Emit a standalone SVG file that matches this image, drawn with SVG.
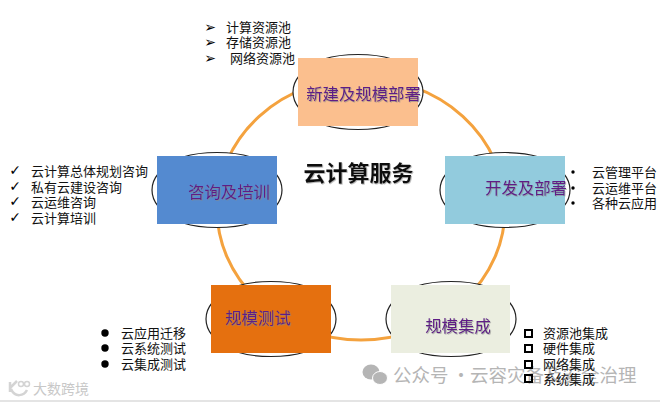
<svg xmlns="http://www.w3.org/2000/svg" width="660" height="402" viewBox="0 0 660 402">
<defs>
<path id="plaque" d="M26,1 C45,-5 75,-5 94,1 L110,8 L119,18 C124,24 125,30 125,34 C125,38 124,44 119,50 L110,60 L94,67 C75,73 45,73 26,67 L10,60 L1,50 C-4,44 -5,38 -5,34 C-5,30 -4,24 1,18 L10,8 Z" fill="#fff" stroke="#222" stroke-width="1.2"/>
<filter id="sh" x="-10%" y="-10%" width="120%" height="130%"><feDropShadow dx="0.8" dy="0.8" stdDeviation="0.4" flood-color="#888" flood-opacity="0.7"/></filter>
</defs>
<style>
.t{font-family:"Noto Sans CJK SC","Liberation Sans",sans-serif;font-size:13px;fill:#111}
.n{font-family:"Noto Sans CJK SC","Liberation Sans",sans-serif;font-size:16.4px;fill:#5f1b86;text-anchor:middle;filter:url(#sh)}
.m{font-size:14px;fill:#000;font-family:"DejaVu Sans",sans-serif;text-anchor:middle}
.w{font-family:"Noto Sans CJK SC","Liberation Sans",sans-serif;fill:#b5b5b5}
</style>
<rect width="660" height="402" fill="#fff"/>
<rect y="400" width="660" height="2" fill="#e4e4e4"/>
<g id="connectors"><ellipse cx="361" cy="209" rx="144" ry="131" fill="none" stroke="#f4a23e" stroke-width="3"/></g>
<g id="node-new"><use href="#plaque" x="298" y="58"/><rect x="298" y="58" width="120" height="68" fill="#fbbf8e"/><text class="n" x="363.500" y="100">新建及规模部署</text></g>
<g id="node-dev"><use href="#plaque" x="445" y="156"/><rect x="445" y="156" width="120" height="68" fill="#92cbdd"/><text class="n" x="526" y="194">开发及部署</text></g>
<g id="node-integ"><use href="#plaque" x="391" y="285"/><rect x="391" y="285" width="119" height="68" fill="#ebeee0"/><text class="n" x="458" y="332">规模集成</text></g>
<g id="node-test"><use href="#plaque" x="211" y="285"/><rect x="211" y="285" width="120" height="68" fill="#e5700f"/><text class="n" x="258" y="324">规模测试</text></g>
<g id="node-consult"><use href="#plaque" x="157" y="156"/><rect x="157" y="156" width="120" height="68" fill="#548ad0"/><text class="n" x="229" y="198">咨询及培训</text></g>
<text x="358.500" y="181" text-anchor="middle" font-family="Noto Sans CJK SC,sans-serif" font-size="22" font-weight="700" fill="#111" filter="url(#sh)">云计算服务</text>
<g id="list-new">
<text class="m" x="210" y="32">➢</text><text class="m" x="210" y="47">➢</text><text class="m" x="210" y="63">➢</text>
<text class="t" x="226" y="32">计算资源池</text><text class="t" x="226" y="47">存储资源池</text><text class="t" x="230" y="63">网络资源池</text>
</g>
<g id="list-consult">
<text class="m" x="15" y="175">✓</text><text class="m" x="15" y="191">✓</text><text class="m" x="15" y="206">✓</text><text class="m" x="15" y="222">✓</text>
<text class="t" x="31" y="176">云计算总体规划咨询</text><text class="t" x="31" y="192">私有云建设咨询</text><text class="t" x="31" y="207">云运维咨询</text><text class="t" x="31" y="223">云计算培训</text>
</g>
<g id="list-dev">
<circle cx="573" cy="172" r="1.7"/><circle cx="573" cy="188" r="1.7"/><circle cx="573" cy="203" r="1.7"/>
<text class="t" x="592" y="177">云管理平台</text><text class="t" x="592" y="193">云运维平台</text><text class="t" x="592" y="208">各种云应用</text>
</g>
<g id="list-test">
<circle cx="105" cy="333" r="3.7"/><circle cx="105" cy="348" r="3.7"/><circle cx="105" cy="364" r="3.7"/>
<text class="t" x="121" y="338">云应用迁移</text><text class="t" x="121" y="353">云系统测试</text><text class="t" x="121" y="369">云集成测试</text>
</g>
<g id="watermark-right">
<ellipse cx="371" cy="372" rx="8.500" ry="7.500" fill="#b5b5b5"/><ellipse cx="380" cy="378" rx="7.500" ry="6.500" fill="#b5b5b5" stroke="#fff"/>
<g class="w" font-size="18.500"><text x="393" y="382">公众号</text><text x="461" y="382" text-anchor="middle">·</text><text x="470" y="382">云容灾备及安全治理</text></g>
</g>
<g id="watermark-left">
<path d="M10,382 V392 M10,388 L17,381 M11,389 C15,398 24,396 27,390" fill="none" stroke="#d4d4d4" stroke-width="2.500"/><circle cx="21" cy="384" r="2.500" fill="none" stroke="#d4d4d4" stroke-width="1.500"/><circle cx="27" cy="384" r="2.500" fill="none" stroke="#d4d4d4" stroke-width="1.500"/>
<text class="w" font-size="14" x="33" y="394" style="fill:#c8c8c8">大数跨境</text>
</g>
<g id="list-integ">
<g fill="none" stroke="#000" stroke-width="2"><rect x="525" y="330" width="7" height="7"/><rect x="525" y="345" width="7" height="7"/><rect x="525" y="361" width="7" height="7"/><rect x="525" y="375" width="7" height="7"/></g>
<text class="t" x="543" y="338">资源池集成</text><text class="t" x="543" y="353">硬件集成</text><text class="t" x="543" y="369">网络集成</text><text class="t" x="543" y="384">系统集成</text>
</g>
</svg>
